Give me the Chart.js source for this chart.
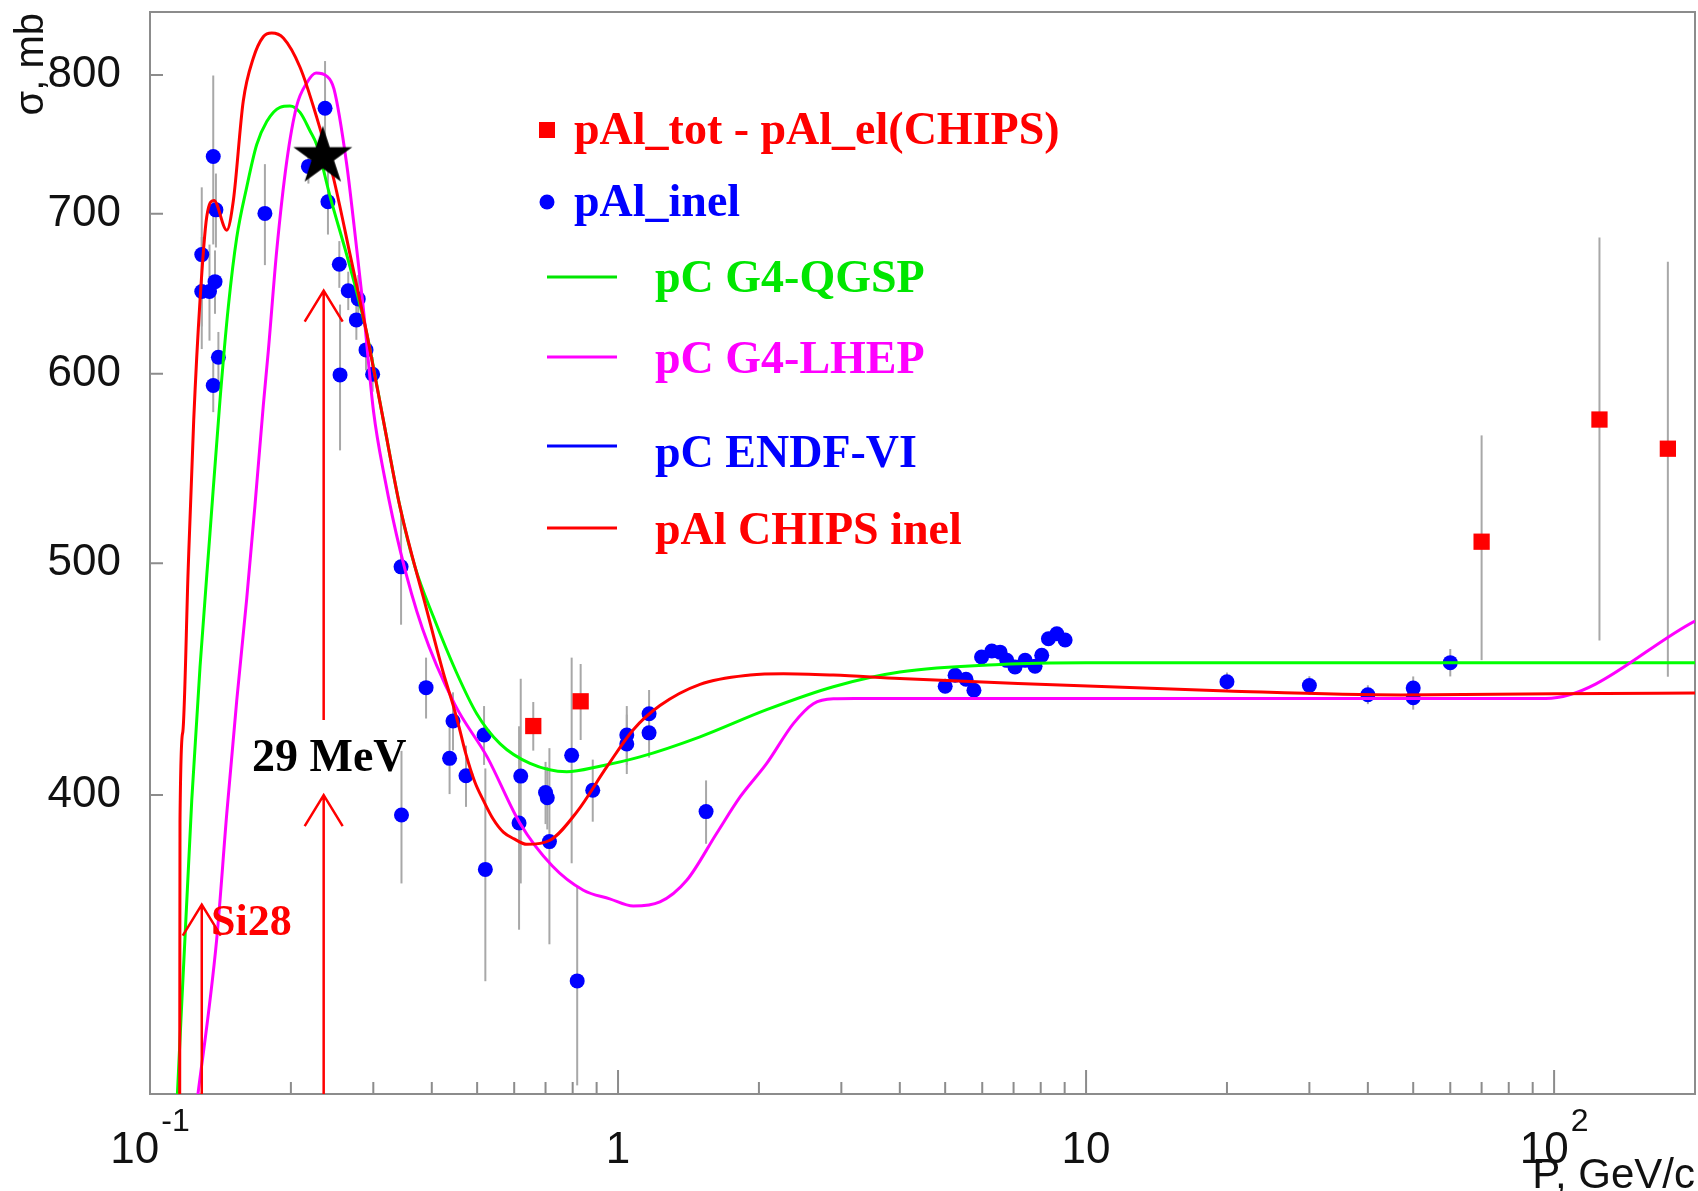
<!DOCTYPE html>
<html>
<head>
<meta charset="utf-8">
<script src="https://cdn.jsdelivr.net/npm/chart.js@4.4.1/dist/chart.umd.min.js"></script>
<style>
  html, body { margin: 0; padding: 0; background: #fff; }
  #wrap { width: 1698px; height: 1191px; position: relative; }
</style>
</head>
<body>
<div id="wrap"><canvas id="chart"></canvas></div>
<script>
// axis ranges and tick labels
const xMin = 0.1, xMax = 200;
const yMin = 300, yMax = 850;
const yTickValues = [400, 500, 600, 700, 800];
const xLabelValues = [0.1, 1, 10, 100];
const xLabelBase = ['10', '1', '10', '10'];
const xLabelExp = ['-1', '', '', '2'];

// pAl_inel measurements (P in GeV/c, sigma in mb, error in mb)
const inelP = [0.129, 0.129, 0.134, 0.1377, 0.1365, 0.1383, 0.140, 0.1365, 0.176, 0.218,
  0.2366, 0.240, 0.2538, 0.2547, 0.2652, 0.276, 0.2786, 0.2894, 0.299, 0.3439,
  0.3446, 0.3889, 0.4366, 0.444, 0.4733, 0.5173, 0.5206, 0.6145, 0.6196, 0.700,
  0.706, 0.7135, 0.796, 0.818, 0.883, 1.044, 1.044, 1.165, 1.165, 1.542,
  5.0, 5.25, 5.54, 5.76, 5.98, 6.29, 6.55, 6.77, 7.05, 7.41, 7.78, 8.04, 8.31, 8.66, 9.02,
  20, 30, 40, 50, 50, 60];
const inelSigma = [673, 649.5, 649.5, 655.7, 739.6, 702.6, 609.7, 593.3, 700.2, 732.6,
  774.8, 708.1, 666.8, 599.4, 650, 632, 644.9, 614, 599.8, 498.3,
  392.4, 443.6, 414.4, 429.6, 407.5, 423.8, 372.4, 389.4, 407.4, 401,
  399, 382.5, 415.6, 334.5, 401.9, 423.8, 420.2, 432.6, 424.7, 393.7,
  444.2, 448.9, 447.2, 442.5, 456.9, 459.5, 459, 455.4, 452.5, 455.4, 452.8, 457.6, 465, 467.2, 464.4,
  446.1, 444.5, 440.6, 443.4, 439.3, 454.4];
const inelErr = [45, 35, 30, 20, 60, 25, 15, 15, 34, 12,
  36, 22, 15, 42, 12, 12, 15, 12, 10, 27,
  25, 13, 14, 12, 12, 12, 38, 38, 40, 12,
  12, 36, 41, 32, 12, 12, 12, 10, 10, 12,
  3, 3, 3, 3, 3, 3, 3, 3, 3, 3, 3, 3, 3, 3, 3,
  4, 4, 4, 5, 5, 6];

// pAl_tot - pAl_el(CHIPS)
const totElP = [0.659, 0.832, 70, 125, 175];
const totElSigma = [427.5, 437.8, 510.5, 574.2, 558.3];
const totElErr = [10, 16, 55, 110, 110];

// pC G4-QGSP
const qgspP = [0.1135, 0.1228, 0.1279, 0.1343, 0.1411, 0.147, 0.1532, 0.1609, 0.169, 0.1776,
  0.1896, 0.1991, 0.2092, 0.2198, 0.2271, 0.2424, 0.2676, 0.2904, 0.3151, 0.342,
  0.3686, 0.403, 0.4519, 0.499, 0.56, 0.6486, 0.777, 0.915, 1.114, 1.497,
  2.078, 2.884, 4.0, 6.55, 10, 200];
const qgspSigma = [290, 398, 452.5, 514.5, 585, 640, 684, 718, 748, 765,
  775.5, 776.5, 771.7, 758, 748, 712, 665, 624, 574, 528,
  498, 475, 450, 432.6, 420.2, 412.4, 409.1, 411.3, 415, 423.1,
  434.3, 444, 450.3, 453.6, 454.3, 454.3];

// pC G4-LHEP
const lhepP = [0.1254, 0.1388, 0.1459, 0.1532, 0.1609, 0.1676, 0.1746, 0.179, 0.1865, 0.196,
  0.2058, 0.2162, 0.2263, 0.2385, 0.2472, 0.263, 0.2729, 0.2849, 0.3004, 0.3169,
  0.3433, 0.382, 0.4479, 0.5255, 0.6168, 0.7239, 0.8432, 0.96, 1.078, 1.229,
  1.402, 1.625, 1.823, 2.078, 2.369, 2.614, 2.884, 3.2, 10, 96,
  200];
const lhepSigma = [295.5, 348, 393, 438, 483, 528.6, 582, 613.6, 675.4, 736.4,
  776.6, 793.9, 801.5, 799.2, 789.3, 734.9, 692, 642.1, 578.5, 543.5,
  505.2, 469.6, 436.5, 414.9, 389.4, 373.6, 365, 362, 359.5, 360.9,
  368.5, 385.6, 399.3, 412.4, 428.5, 436.8, 438.9, 439, 439, 439,
  473];

// pAl CHIPS inel
const chipsP = [0.1157, 0.1159, 0.1175, 0.1207, 0.124, 0.1279, 0.1322, 0.137, 0.1459, 0.1507,
  0.1582, 0.1662, 0.1746, 0.182, 0.1927, 0.2092, 0.2271, 0.2464, 0.2676, 0.2904,
  0.3151, 0.342, 0.3686, 0.3837, 0.4233, 0.4446, 0.4589, 0.4733, 0.4946, 0.5155,
  0.5405, 0.5687, 0.6, 0.638, 0.7156, 0.816, 0.946, 1.078, 1.229, 1.497,
  1.915, 2.256, 2.884, 4.0, 6.55, 20, 47, 100, 200];
const chipsSigma = [280, 390, 425, 498, 574, 644, 698, 709, 689, 709,
  780, 813, 830, 833, 829, 806, 768, 725, 673, 624,
  574, 528, 498, 484, 450, 436, 426, 416, 405, 398,
  391, 386, 383.5, 381.5, 383, 393.5, 411, 426, 436, 445,
  449, 449.6, 449, 447.5, 445.7, 442.2, 440.5, 441, 441.3];

// 29 MeV star
const starP = [0.234];
const starSigma = [739.5];

// arrows: P position, sigma of tail, sigma of tip
const arrowP = [0.235, 0.235, 0.129];
const arrowFrom = [430, 300, 300];
const arrowTo = [650, 400, 360];

const legendLabels = ['pAl_tot - pAl_el(CHIPS)', 'pAl_inel', 'pC G4-QGSP', 'pC G4-LHEP', 'pC ENDF-VI', 'pAl CHIPS inel'];
const legendColors = ['#ff0000', '#0000ff', '#00e600', '#ff00ff', '#0000ff', '#ff0000'];
const legendKinds = ['square', 'circle', 'line', 'line', 'line', 'line'];

const SANS = '"Liberation Sans", Arial, Helvetica, sans-serif';
const SERIF = '"Liberation Serif", "Times New Roman", serif';

function toXY(xs, ys) {
  return xs.map((x, i) => ({ x: x, y: ys[i] }));
}

function makeStar(r) {
  const c = document.createElement('canvas');
  const s = Math.ceil(r * 2 + 4);
  c.width = s; c.height = s;
  const g = c.getContext('2d');
  g.translate(s / 2, s / 2);
  g.beginPath();
  for (let i = 0; i < 10; i++) {
    const rad = i % 2 === 0 ? r : r * 0.382;
    const a = -Math.PI / 2 + i * Math.PI / 5;
    g.lineTo(rad * Math.cos(a), rad * Math.sin(a));
  }
  g.closePath();
  g.fillStyle = '#000';
  g.fill();
  return c;
}

function noPadding(scale) {
  scale.paddingTop = 0;
  scale.paddingBottom = 0;
  scale.paddingLeft = 0;
  scale.paddingRight = 0;
}

// frame, inward ticks and error bars under the markers
const framePlugin = {
  id: 'frame',
  beforeDatasetsDraw(chart) {
    const { ctx, chartArea: a, scales: { x, y } } = chart;
    ctx.save();
    ctx.strokeStyle = '#8c8c8c';
    ctx.lineWidth = 2;
    ctx.strokeRect(a.left, a.top, a.right - a.left, a.bottom - a.top);
    ctx.beginPath();
    for (let d = -1; d <= 2; d++) {
      for (let m = 1; m <= 9; m++) {
        const v = m * Math.pow(10, d);
        if (v < xMin || v > xMax) continue;
        const px = x.getPixelForValue(v);
        const len = m === 1 ? 24 : 12;
        ctx.moveTo(px, a.bottom);
        ctx.lineTo(px, a.bottom - len);
      }
    }
    yTickValues.forEach(v => {
      const py = y.getPixelForValue(v);
      ctx.moveTo(a.left, py);
      ctx.lineTo(a.left + 13, py);
    });
    ctx.stroke();

    // error bars
    ctx.beginPath();
    ctx.rect(a.left, a.top, a.right - a.left, a.bottom - a.top);
    ctx.clip();
    ctx.strokeStyle = '#a8a8a8';
    ctx.lineWidth = 2;
    chart.data.datasets.forEach(ds => {
      if (!ds.errors) return;
      ds.data.forEach((pt, i) => {
        const e = ds.errors[i];
        const px = x.getPixelForValue(pt.x);
        ctx.beginPath();
        ctx.moveTo(px, y.getPixelForValue(pt.y - e));
        ctx.lineTo(px, y.getPixelForValue(pt.y + e));
        ctx.stroke();
      });
    });
    ctx.restore();
  }
};

// arrows, annotations and legend on top
const annotationPlugin = {
  id: 'annotations',
  afterDatasetsDraw(chart) {
    const { ctx, scales: { x, y } } = chart;
    ctx.save();
    ctx.strokeStyle = '#ff0000';
    ctx.lineWidth = 2.5;
    arrowP.forEach((p, i) => {
      const px = x.getPixelForValue(p);
      const y0 = y.getPixelForValue(arrowFrom[i]);
      const y1 = y.getPixelForValue(arrowTo[i]);
      ctx.beginPath();
      ctx.moveTo(px, y0);
      ctx.lineTo(px, y1);
      ctx.moveTo(px - 19, y1 + 31);
      ctx.lineTo(px, y1);
      ctx.lineTo(px + 19, y1 + 31);
      ctx.stroke();
    });

    ctx.fillStyle = '#000';
    ctx.font = 'bold 46px ' + SERIF;
    ctx.textAlign = 'left';
    ctx.textBaseline = 'alphabetic';
    ctx.fillText('29 MeV', 252, 771);
    ctx.fillStyle = '#ff0000';
    ctx.font = 'bold 44px ' + SERIF;
    ctx.fillText('Si28', 211, 935);

    // legend
    const rowY = [144, 216, 292, 373, 467, 544];
    const markY = [130, 202, 277, 357, 446, 528];
    ctx.font = 'bold 46px ' + SERIF;
    legendLabels.forEach((label, i) => {
      const col = legendColors[i];
      ctx.fillStyle = col;
      ctx.strokeStyle = col;
      let tx = 655;
      if (legendKinds[i] === 'square') {
        ctx.fillRect(539, markY[i] - 8, 16, 16);
        tx = 574;
      } else if (legendKinds[i] === 'circle') {
        ctx.beginPath();
        ctx.arc(547, markY[i], 7.5, 0, Math.PI * 2);
        ctx.fill();
        tx = 574;
      } else {
        ctx.lineWidth = 3;
        ctx.beginPath();
        ctx.moveTo(547, markY[i]);
        ctx.lineTo(617, markY[i]);
        ctx.stroke();
      }
      ctx.fillText(label, tx, rowY[i]);
    });
    ctx.restore();
  },
  afterDraw(chart) {
    const { ctx, chartArea: a, scales: { x } } = chart;
    ctx.save();
    ctx.fillStyle = '#111';
    ctx.textBaseline = 'alphabetic';
    ctx.textAlign = 'left';
    xLabelValues.forEach((v, i) => {
      const px = x.getPixelForValue(v);
      ctx.font = '44px ' + SANS;
      const wb = ctx.measureText(xLabelBase[i]).width;
      ctx.font = '32px ' + SANS;
      const we = xLabelExp[i] ? ctx.measureText(xLabelExp[i]).width + 2 : 0;
      const start = px - (wb + we) / 2;
      ctx.font = '44px ' + SANS;
      ctx.fillText(xLabelBase[i], start, 1163);
      if (xLabelExp[i]) {
        ctx.font = '32px ' + SANS;
        ctx.fillText(xLabelExp[i], start + wb + 2, 1131);
      }
    });
    ctx.font = '42px ' + SANS;
    ctx.textAlign = 'right';
    ctx.fillText('P, GeV/c', a.right, 1188);

    ctx.translate(43, 13);
    ctx.rotate(-Math.PI / 2);
    ctx.textAlign = 'right';
    ctx.font = '40px ' + SANS;
    ctx.fillText('\u03c3, mb', 0, 0);
    ctx.restore();
  }
};

const curveDefaults = {
  showLine: true,
  pointRadius: 0,
  borderWidth: 3,
  cubicInterpolationMode: 'monotone',
  clip: 0
};

new Chart(document.getElementById('chart'), {
  type: 'scatter',
  data: {
    datasets: [
      {
        label: 'pAl_inel',
        data: toXY(inelP, inelSigma),
        errors: inelErr,
        pointStyle: 'circle',
        pointRadius: 7.5,
        backgroundColor: '#0000ff',
        borderWidth: 0,
        order: 6
      },
      {
        label: 'pAl_tot - pAl_el(CHIPS)',
        data: toXY(totElP, totElSigma),
        errors: totElErr,
        pointStyle: 'rect',
        pointRadius: 11.5,
        backgroundColor: '#ff0000',
        borderWidth: 0,
        order: 5
      },
      Object.assign({ label: 'pC G4-QGSP', data: toXY(qgspP, qgspSigma), borderColor: '#00ff00', order: 3 }, curveDefaults),
      Object.assign({ label: 'pC G4-LHEP', data: toXY(lhepP, lhepSigma), borderColor: '#ff00ff', order: 2 }, curveDefaults),
      Object.assign({ label: 'pAl CHIPS inel', data: toXY(chipsP, chipsSigma), borderColor: '#ff0000', order: 1 }, curveDefaults),
      {
        label: '29 MeV',
        data: toXY(starP, starSigma),
        pointStyle: makeStar(31),
        pointRadius: 31,
        order: 0
      }
    ]
  },
  options: {
    responsive: true,
    maintainAspectRatio: false,
    animation: false,
    devicePixelRatio: 1,
    events: [],
    layout: { autoPadding: false, padding: { top: 12, right: 3, left: 0, bottom: 0 } },
    plugins: {
      legend: { display: false },
      tooltip: { enabled: false }
    },
    scales: {
      x: {
        type: 'logarithmic',
        min: xMin,
        max: xMax,
        grid: { display: false, drawTicks: false },
        border: { display: false },
        ticks: { display: false },
        afterFit: (scale) => { scale.height = 97; noPadding(scale); }
      },
      y: {
        type: 'logarithmic',
        min: yMin,
        max: yMax,
        grid: { display: false, drawTicks: false },
        border: { display: false },
        afterBuildTicks: (scale) => { scale.ticks = yTickValues.map(v => ({ value: v })); },
        afterFit: (scale) => { scale.width = 150; noPadding(scale); },
        ticks: {
          padding: 29,
          color: '#111',
          font: { family: SANS, size: 44 },
          callback: (v) => String(v)
        }
      }
    }
  },
  plugins: [framePlugin, annotationPlugin]
});
</script>
</body>
</html>
